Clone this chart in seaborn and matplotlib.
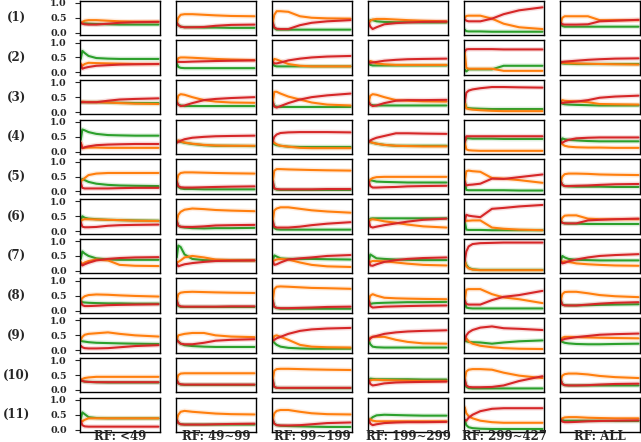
import numpy as np
import pandas as pd
import matplotlib
matplotlib.use("Agg")
import matplotlib.pyplot as plt
import matplotlib.patheffects as pe
import seaborn as sns

steps = [0, 2, 5, 10, 20, 35, 50, 70, 100]

col_labels = ["RF: <49", "RF: 49~99", "RF: 99~199", "RF: 199~299", "RF: 299~427", "RF: ALL"]
row_labels = ["(%d)" % i for i in range(1, 12)]

# one list per column (6) for each row, three series per row
green_01 = [[.33, .32, .31, .30, .29, .28, .27, .27, .27], [.33, .25, .20, .18, .18, .17, .17, .16, .16],
            [.33, .15, .10, .10, .10, .10, .10, .10, .10], [.33, .42, .42, .38, .36, .35, .35, .34, .34],
            [.10, .05, .04, .04, .04, .03, .03, .03, .03], [.33, .22, .20, .20, .20, .20, .20, .20, .20]]
orange_01 = [[.33, .36, .40, .42, .42, .40, .38, .37, .37], [.33, .50, .60, .62, .62, .60, .58, .56, .55],
             [.33, .60, .72, .72, .70, .55, .50, .48, .47], [.33, .40, .44, .46, .46, .44, .42, .40, .38],
             [.50, .56, .57, .57, .57, .47, .30, .18, .12], [.33, .50, .55, .55, .55, .55, .42, .42, .42]]
red_01 = [[.33, .30, .28, .27, .27, .30, .33, .35, .36], [.33, .25, .20, .18, .18, .19, .23, .26, .27],
          [.33, .18, .13, .12, .12, .25, .33, .38, .42], [.33, .20, .12, .18, .28, .32, .34, .36, .37],
          [.45, .40, .38, .38, .38, .47, .62, .75, .85], [.33, .28, .27, .27, .27, .28, .38, .40, .43]]

green_02 = [[.45, .72, .65, .55, .48, .46, .45, .45, .45], [.30, .18, .15, .14, .14, .14, .14, .14, .14],
            [.30, .22, .20, .20, .20, .20, .20, .20, .20], [.30, .25, .23, .23, .23, .23, .23, .23, .23],
            [.10, .03, .10, .10, .10, .10, .22, .22, .22], [.33, .30, .29, .29, .28, .28, .28, .28, .28]]
orange_02 = [[.30, .22, .28, .32, .31, .30, .29, .28, .28], [.35, .48, .50, .50, .49, .47, .45, .43, .41],
             [.35, .45, .43, .38, .28, .22, .20, .20, .20], [.35, .38, .35, .30, .27, .25, .25, .25, .25],
             [.70, .15, .12, .12, .12, .12, .05, .05, .05], [.33, .32, .32, .31, .30, .29, .28, .27, .26]]
red_02 = [[.25, .12, .15, .18, .22, .24, .26, .27, .28], [.35, .35, .35, .35, .36, .37, .38, .39, .40],
          [.35, .30, .30, .33, .40, .46, .50, .53, .55], [.35, .32, .33, .35, .39, .42, .44, .45, .46],
          [.70, .77, .78, .78, .78, .78, .77, .77, .77], [.33, .35, .36, .37, .39, .42, .44, .46, .47]]

green_03 = [[.33, .33, .33, .33, .33, .32, .31, .30, .30], [.33, .25, .22, .20, .20, .20, .20, .20, .20],
            [.33, .20, .18, .17, .17, .17, .17, .17, .17], [.33, .25, .23, .22, .22, .22, .22, .22, .22],
            [.33, .15, .13, .12, .11, .10, .10, .10, .10], [.33, .28, .26, .25, .24, .23, .22, .22, .22]]
orange_03 = [[.33, .35, .34, .33, .33, .32, .30, .28, .27], [.33, .55, .60, .58, .50, .40, .35, .32, .31],
             [.33, .68, .68, .62, .52, .42, .32, .25, .22], [.33, .55, .60, .58, .50, .40, .38, .36, .35],
             [.33, .12, .10, .08, .06, .04, .03, .03, .03], [.33, .40, .38, .37, .36, .33, .27, .26, .25]]
red_03 = [[.33, .33, .33, .33, .33, .38, .42, .44, .46], [.33, .25, .20, .22, .30, .40, .44, .47, .50],
          [.33, .18, .15, .20, .30, .42, .50, .56, .62], [.33, .25, .20, .22, .30, .38, .40, .40, .41],
          [.33, .65, .72, .76, .80, .84, .84, .83, .82], [.33, .30, .32, .33, .35, .40, .48, .52, .55]]

green_04 = [[.40, .75, .72, .66, .60, .56, .55, .54, .54], [.35, .35, .33, .30, .26, .22, .20, .20, .19],
            [.35, .25, .22, .20, .17, .16, .16, .16, .16], [.33, .32, .30, .27, .23, .20, .20, .20, .20],
            [.33, .45, .45, .44, .44, .44, .43, .43, .43], [.33, .45, .42, .40, .38, .36, .35, .35, .35]]
orange_04 = [[.30, .12, .13, .14, .14, .13, .13, .13, .13], [.35, .38, .35, .31, .27, .23, .21, .20, .20],
             [.35, .30, .25, .20, .17, .13, .12, .12, .12], [.33, .33, .30, .27, .23, .20, .19, .18, .18],
             [.33, .08, .05, .04, .03, .03, .03, .03, .03], [.33, .25, .20, .17, .15, .14, .14, .13, .13]]
red_04 = [[.30, .12, .15, .18, .22, .24, .25, .26, .26], [.30, .33, .37, .42, .47, .50, .52, .53, .54],
          [.35, .50, .58, .63, .65, .66, .66, .66, .65], [.33, .38, .42, .47, .53, .62, .62, .61, .60],
          [.33, .52, .52, .52, .52, .52, .52, .52, .52], [.33, .30, .35, .40, .45, .47, .48, .48, .48]]

green_05 = [[.35, .42, .38, .32, .26, .22, .20, .19, .18], [.33, .15, .10, .08, .08, .07, .07, .07, .07],
            [.33, .10, .06, .05, .05, .05, .05, .05, .05], [.33, .38, .36, .33, .32, .31, .30, .30, .30],
            [.33, .05, .04, .04, .04, .04, .04, .03, .03], [.33, .22, .18, .17, .16, .16, .16, .15, .15]]
orange_05 = [[.35, .38, .45, .55, .60, .62, .62, .62, .62], [.33, .55, .62, .64, .64, .63, .62, .61, .60],
             [.33, .70, .75, .75, .74, .73, .72, .71, .70], [.33, .40, .45, .48, .49, .49, .49, .49, .49],
             [.33, .68, .70, .68, .66, .45, .43, .38, .29], [.33, .50, .58, .60, .60, .59, .57, .56, .55]]
red_05 = [[.30, .12, .10, .10, .10, .10, .11, .12, .12], [.33, .18, .14, .13, .13, .14, .15, .16, .17],
          [.33, .10, .08, .07, .07, .07, .07, .08, .08], [.33, .18, .13, .13, .14, .15, .17, .18, .19],
          [.33, .20, .22, .23, .26, .43, .42, .48, .57], [.33, .22, .18, .18, .19, .20, .22, .24, .25]]

green_06 = [[.35, .50, .45, .42, .40, .38, .37, .36, .35], [.33, .18, .14, .12, .10, .09, .10, .10, .11],
            [.33, .10, .06, .05, .05, .05, .05, .05, .05], [.33, .42, .43, .43, .43, .43, .43, .43, .43],
            [.33, .05, .04, .04, .04, .03, .03, .03, .03], [.33, .28, .26, .25, .25, .24, .24, .24, .24]]
orange_06 = [[.35, .38, .40, .40, .39, .38, .37, .35, .34], [.33, .55, .65, .72, .76, .74, .71, .69, .67],
             [.33, .70, .76, .80, .80, .75, .70, .66, .62], [.33, .38, .40, .38, .33, .28, .22, .16, .12],
             [.33, .35, .35, .36, .36, .12, .08, .05, .03], [.33, .45, .52, .53, .53, .42, .40, .40, .40]]
red_06 = [[.30, .15, .13, .13, .14, .18, .20, .21, .22], [.33, .18, .15, .14, .14, .16, .19, .20, .21],
          [.33, .15, .12, .12, .12, .15, .20, .25, .30], [.33, .15, .12, .15, .20, .26, .32, .38, .42],
          [.33, .55, .52, .50, .47, .75, .78, .83, .88], [.33, .28, .26, .26, .26, .36, .38, .40, .42]]

green_07 = [[.40, .65, .58, .50, .42, .38, .37, .37, .37], [.45, .85, .80, .55, .40, .36, .35, .35, .35],
            [.33, .52, .48, .42, .40, .40, .40, .39, .38], [.33, .55, .50, .42, .40, .38, .37, .36, .36],
            [.33, .20, .10, .05, .03, .03, .03, .03, .03], [.33, .50, .45, .40, .37, .36, .35, .35, .35]]
orange_07 = [[.30, .22, .28, .33, .38, .35, .20, .17, .16], [.30, .30, .35, .45, .50, .45, .38, .36, .35],
             [.33, .35, .38, .40, .38, .28, .20, .15, .13], [.33, .30, .33, .33, .32, .28, .24, .20, .18],
             [.33, .15, .08, .04, .02, .02, .02, .02, .02], [.33, .30, .32, .30, .25, .22, .20, .18, .17]]
red_07 = [[.25, .18, .22, .27, .35, .40, .43, .45, .46], [.25, .15, .18, .22, .26, .30, .33, .34, .35],
          [.33, .20, .22, .28, .38, .42, .45, .50, .53], [.33, .18, .17, .22, .30, .36, .40, .43, .45],
          [.33, .65, .82, .90, .93, .94, .95, .95, .95], [.33, .25, .27, .32, .38, .45, .50, .53, .56]]

green_08 = [[.35, .28, .27, .26, .25, .24, .24, .23, .23], [.33, .15, .12, .12, .12, .12, .12, .12, .12],
            [.33, .12, .08, .06, .06, .06, .06, .06, .06], [.33, .22, .24, .25, .26, .27, .28, .28, .29],
            [.33, .10, .08, .07, .07, .07, .07, .07, .07], [.33, .20, .18, .17, .17, .18, .19, .20, .21]]
orange_08 = [[.35, .42, .48, .52, .54, .53, .51, .49, .47], [.33, .55, .60, .62, .63, .62, .61, .60, .59],
             [.33, .72, .80, .81, .80, .78, .76, .75, .73], [.33, .50, .55, .50, .43, .41, .40, .39, .38],
             [.33, .70, .72, .72, .72, .55, .44, .38, .25], [.33, .55, .62, .63, .63, .58, .52, .48, .45]]
red_08 = [[.30, .18, .15, .15, .16, .18, .19, .20, .21], [.33, .18, .14, .13, .13, .13, .13, .14, .14],
          [.33, .12, .09, .08, .08, .09, .10, .12, .13], [.33, .15, .10, .11, .13, .14, .15, .16, .17],
          [.33, .22, .20, .20, .20, .35, .46, .52, .66], [.33, .20, .17, .17, .17, .20, .23, .26, .28]]

green_09 = [[.33, .30, .29, .27, .25, .24, .23, .22, .21], [.35, .30, .22, .17, .14, .12, .11, .11, .11],
            [.33, .25, .18, .12, .08, .06, .05, .05, .05], [.33, .20, .12, .10, .09, .09, .09, .09, .09],
            [.33, .30, .28, .27, .26, .22, .26, .30, .33], [.33, .28, .25, .23, .21, .20, .20, .21, .22]]
orange_09 = [[.35, .45, .52, .55, .57, .60, .55, .50, .46], [.35, .50, .52, .55, .58, .58, .50, .46, .44],
             [.33, .48, .50, .45, .35, .18, .12, .10, .09], [.33, .42, .45, .45, .45, .35, .28, .23, .22],
             [.33, .40, .30, .22, .15, .10, .07, .05, .04], [.33, .42, .45, .45, .44, .43, .42, .41, .40]]
red_09 = [[.15, .10, .07, .06, .06, .07, .10, .14, .17], [.35, .28, .22, .20, .20, .25, .32, .35, .37],
          [.33, .35, .40, .45, .55, .65, .70, .73, .75], [.33, .40, .45, .48, .55, .60, .63, .65, .67],
          [.33, .50, .60, .68, .76, .80, .74, .72, .68], [.33, .35, .38, .40, .44, .48, .52, .54, .56]]

green_10 = [[.33, .30, .28, .27, .26, .25, .25, .25, .25], [.33, .22, .18, .17, .17, .17, .17, .17, .17],
            [.33, .10, .07, .06, .06, .06, .06, .06, .06], [.33, .38, .37, .36, .36, .36, .36, .35, .35],
            [.33, .10, .06, .05, .05, .05, .05, .05, .05], [.33, .20, .16, .15, .15, .15, .15, .15, .15]]
orange_10 = [[.33, .37, .40, .42, .44, .44, .44, .44, .44], [.33, .50, .55, .56, .56, .56, .56, .56, .56],
             [.33, .65, .70, .71, .71, .70, .69, .68, .67], [.33, .32, .34, .34, .33, .32, .31, .30, .30],
             [.33, .62, .68, .70, .70, .68, .58, .48, .40], [.33, .48, .53, .55, .55, .52, .47, .43, .40]]
red_10 = [[.33, .30, .28, .27, .26, .26, .26, .26, .26], [.33, .22, .19, .18, .18, .18, .18, .18, .18],
          [.33, .10, .07, .07, .07, .07, .07, .07, .07], [.33, .20, .15, .17, .22, .25, .26, .27, .28],
          [.33, .15, .10, .09, .09, .10, .15, .30, .46], [.33, .20, .16, .15, .15, .16, .18, .20, .21]]

green_11 = [[.35, .58, .52, .42, .39, .38, .38, .38, .38], [.33, .22, .18, .17, .17, .17, .17, .17, .17],
            [.33, .20, .15, .13, .12, .11, .10, .09, .09], [.33, .35, .42, .48, .50, .49, .48, .47, .47],
            [.33, .15, .08, .05, .03, .02, .02, .02, .02], [.33, .32, .30, .30, .30, .30, .30, .29, .29]]
orange_11 = [[.30, .28, .33, .38, .38, .38, .38, .38, .38], [.33, .50, .60, .63, .60, .57, .54, .52, .51],
             [.33, .55, .63, .66, .66, .60, .55, .52, .51], [.33, .35, .30, .28, .28, .28, .28, .28, .28],
             [.75, .55, .45, .38, .30, .25, .23, .23, .23], [.33, .38, .41, .42, .42, .40, .39, .38, .38]]
red_11 = [[.30, .15, .11, .10, .10, .10, .10, .10, .10], [.33, .22, .18, .17, .17, .17, .18, .19, .20],
          [.33, .20, .15, .14, .14, .15, .18, .22, .24], [.33, .20, .15, .18, .22, .24, .25, .25, .26],
          [.33, .30, .40, .50, .62, .70, .72, .72, .72], [.33, .27, .25, .25, .26, .28, .29, .30, .31]]

green_rows = [green_01, green_02, green_03, green_04, green_05, green_06,
              green_07, green_08, green_09, green_10, green_11]
orange_rows = [orange_01, orange_02, orange_03, orange_04, orange_05, orange_06,
               orange_07, orange_08, orange_09, orange_10, orange_11]
red_rows = [red_01, red_02, red_03, red_04, red_05, red_06,
            red_07, red_08, red_09, red_10, red_11]

palette = {"green": "#2ca02c", "orange": "#ff7f0e", "red": "#d62728"}


def build_frame():
    records = []
    for r in range(len(row_labels)):
        for c in range(len(col_labels)):
            for name, rows in (("green", green_rows), ("orange", orange_rows), ("red", red_rows)):
                for x, v in zip(steps, rows[r][c]):
                    records.append((r, c, name, x, v))
    return pd.DataFrame(records, columns=["row", "col", "series", "x", "value"])


def main():
    df = build_frame()

    sns.set_style("white")
    plt.rcParams["font.family"] = ["DejaVu Serif"]
    plt.rcParams["font.weight"] = "bold"

    fig = plt.figure(figsize=(6.41, 4.42), dpi=100)
    W, H = 641.0, 442.0
    ax_w, ax_h = 80.0, 34.5
    glow = [pe.Stroke(linewidth=3.5, alpha=0.15), pe.Normal()]

    for r in range(len(row_labels)):
        top = 0.5 + 39.7 * r
        for c in range(len(col_labels)):
            left = 80.0 + 96.0 * c
            ax = fig.add_axes([left / W, 1 - (top + ax_h) / H, ax_w / W, ax_h / H])
            sub = df[(df["row"] == r) & (df["col"] == c)]
            sns.lineplot(data=sub, x="x", y="value", hue="series",
                         hue_order=["green", "orange", "red"], palette=palette,
                         legend=False, ax=ax, linewidth=1.5, path_effects=glow)
            ax.set_xlim(-1, 102)
            ax.set_ylim(-0.08, 1.08)
            ax.set_xlabel("")
            ax.set_ylabel("")
            ax.set_xticks([])
            for s in ax.spines.values():
                s.set_color("black")
                s.set_linewidth(1.0)
            if c == 0:
                ax.set_yticks([0.0, 0.5, 1.0])
                ax.set_yticklabels(["0.0", "0.5", "1.0"], fontsize=6.8, fontweight="bold")
                ax.tick_params(axis="y", length=3.5, width=0.8, pad=6, left=True)
            else:
                ax.set_yticks([])
        fig.text(16 / W, 1 - (top + ax_h / 2) / H, row_labels[r],
                 ha="center", va="center", fontsize=8.5, fontweight="bold")

    for c, lab in enumerate(col_labels):
        fig.text((80.0 + 96.0 * c + ax_w / 2) / W, 5.5 / H, lab,
                 ha="center", va="center", fontsize=8.5, fontweight="bold")

    fig.savefig("out.png", dpi=100)


if __name__ == "__main__":
    main()
